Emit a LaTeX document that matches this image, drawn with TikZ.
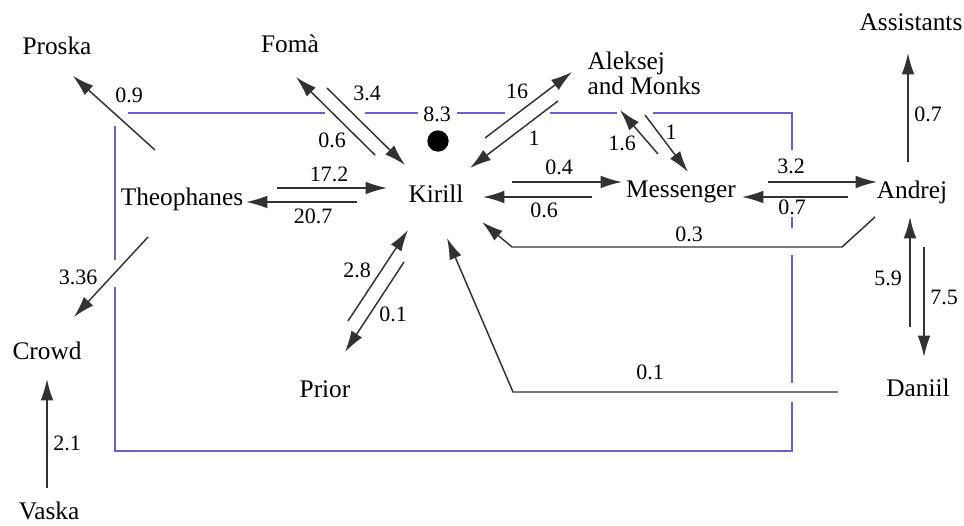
\documentclass[tikz,border=0pt]{standalone}
\usepackage{fontspec}
\setmainfont{Liberation Serif}
\usetikzlibrary{arrows.meta}

\definecolor{frameblue}{RGB}{105,95,205}
\definecolor{flowgray}{RGB}{50,50,50}

\tikzset{every picture/.style={line width=0.75pt}}
\tikzset{
  actor/.style={inner sep=0pt, font=\fontsize{19}{19}\selectfont},
  weight/.style={inner sep=0pt, font=\fontsize{16.5}{17}\selectfont},
  flow/.style={draw=flowgray, line width=1.1pt, -{Latex[length=16pt,width=9.5pt]}},
  frame/.style={draw=frameblue, line width=1.4pt},
}

\begin{document}
\begin{tikzpicture}[x=0.75pt,y=0.75pt,yscale=-1]
	\useasboundingbox (0,0) rectangle (964,525);

	% Draw the frame, broken where the flows cross it
	\draw[frame] (128,113) -- (325,113) ;
	\draw[frame] (365,113) -- (418,113) ;
	\draw[frame] (457,113) -- (505,113) ;
	\draw[frame] (550,113) -- (617,113) ;
	\draw[frame] (653,113) -- (792,113) -- (792,150) ;
	\draw[frame] (792,217) -- (792,228) ;
	\draw[frame] (792,255) -- (792,383) ;
	\draw[frame] (792,402) -- (792,451) -- (115,451) -- (115,287) ;
	\draw[frame] (115,260) -- (115,126) ;
	\node[circle, fill=black, inner sep=0pt, minimum size=16pt] (dot) at (438,141) {};

	% Add actor nodes
	\node[actor] (proska) at (57,46) {Proska};
	\node[actor] (foma) at (290,44) {Fomà};
	\node[actor, align=left, anchor=west] (aleksej) at (587,73) {Aleksej\\and Monks};
	\node[actor] (assist) at (911,22) {Assistants};
	\node[actor] (theo) at (182,199) {Theophanes};
	\node[actor] (kirill) at (436,194) {Kirill};
	\node[actor] (messenger) at (681,192) {Messenger};
	\node[actor] (andrej) at (912,192) {Andrej};
	\node[actor] (crowd) at (47,351) {Crowd};
	\node[actor] (prior) at (325,389) {Prior};
	\node[actor] (daniil) at (918,388) {Daniil};
	\node[actor] (vaska) at (49,511) {Vaska};

	% Flow end points
	\coordinate (tp-a) at (155,150); \coordinate (tp-b) at (73,76);
	\coordinate (fk-a) at (327,88); \coordinate (fk-b) at (405,165);
	\coordinate (kf-a) at (375,155); \coordinate (kf-b) at (296,77);
	\coordinate (tk-a) at (277,188); \coordinate (tk-b) at (387,188);
	\coordinate (kt-a) at (357,202); \coordinate (kt-b) at (246,202);
	\coordinate (tc-a) at (148,237); \coordinate (tc-b) at (74,317);
	\coordinate (vc-a) at (47,488); \coordinate (vc-b) at (47,379);
	\coordinate (pk-a) at (348,321); \coordinate (pk-b) at (408,230);
	\coordinate (kp-a) at (404,262); \coordinate (kp-b) at (345,352);
	\coordinate (dk-a) at (838,392); \coordinate (dk-m) at (513,392); \coordinate (dk-b) at (447,238);
	\coordinate (ak-a) at (875,217); \coordinate (ak-m) at (842,247); \coordinate (ak-n) at (512,247); \coordinate (ak-b) at (482,222);
	\coordinate (km-a) at (512,182); \coordinate (km-b) at (622,182);
	\coordinate (mk-a) at (592,197); \coordinate (mk-b) at (483,197);
	\coordinate (kl-a) at (485,138); \coordinate (kl-b) at (572,72);
	\coordinate (lk-a) at (558,101); \coordinate (lk-b) at (470,168);
	\coordinate (ml-a) at (658,154); \coordinate (ml-b) at (620,110);
	\coordinate (lm-a) at (645,115); \coordinate (lm-b) at (688,172);
	\coordinate (ma-a) at (768,182); \coordinate (ma-b) at (877,182);
	\coordinate (am-a) at (848,197); \coordinate (am-b) at (742,197);
	\coordinate (as-a) at (908,162); \coordinate (as-b) at (908,53);
	\coordinate (da-a) at (910,327); \coordinate (da-b) at (910,217);
	\coordinate (ad-a) at (924,247); \coordinate (ad-b) at (924,357);

	% Draw flows
	\draw[flow] (tp-a) -- (tp-b) ;
	\draw[flow] (fk-a) -- (fk-b) ;
	\draw[flow] (kf-a) -- (kf-b) ;
	\draw[flow] (tk-a) -- (tk-b) ;
	\draw[flow] (kt-a) -- (kt-b) ;
	\draw[flow] (tc-a) -- (tc-b) ;
	\draw[flow] (vc-a) -- (vc-b) ;
	\draw[flow] (pk-a) -- (pk-b) ;
	\draw[flow] (kp-a) -- (kp-b) ;
	\draw[flow] (dk-a) -- (dk-m) -- (dk-b) ;
	\draw[flow] (ak-a) -- (ak-m) -- (ak-n) -- (ak-b) ;
	\draw[flow] (km-a) -- (km-b) ;
	\draw[flow] (mk-a) -- (mk-b) ;
	\draw[flow] (kl-a) -- (kl-b) ;
	\draw[flow] (lk-a) -- (lk-b) ;
	\draw[flow] (ml-a) -- (ml-b) ;
	\draw[flow] (lm-a) -- (lm-b) ;
	\draw[flow] (ma-a) -- (ma-b) ;
	\draw[flow] (am-a) -- (am-b) ;
	\draw[flow] (as-a) -- (as-b) ;
	\draw[flow] (da-a) -- (da-b) ;
	\draw[flow] (ad-a) -- (ad-b) ;

	% Add weight labels
	\node[weight] (w-tp) at (129,95) {0.9};
	\node[weight] (w-fk) at (367,93) {3.4};
	\node[weight] (w-kf) at (332,140) {0.6};
	\node[weight] (w-top) at (437,114) {8.3};
	\node[weight] (w-tk) at (329,174) {17.2};
	\node[weight] (w-kt) at (313,216) {20.7};
	\node[weight] (w-tc) at (78,277) {3.36};
	\node[weight] (w-vc) at (67,443) {2.1};
	\node[weight] (w-pk) at (357,270) {2.8};
	\node[weight] (w-kp) at (393,314) {0.1};
	\node[weight] (w-dk) at (650,372) {0.1};
	\node[weight] (w-ak) at (689,234) {0.3};
	\node[weight] (w-km) at (559,167) {0.4};
	\node[weight] (w-mk) at (544,210) {0.6};
	\node[weight] (w-kl) at (517,91) {16};
	\node[weight] (w-lk) at (534,138) {1};
	\node[weight] (w-ml) at (622,143) {1.6};
	\node[weight] (w-lm) at (671,132) {1};
	\node[weight] (w-ma) at (791,166) {3.2};
	\node[weight] (w-am) at (792,207) {0.7};
	\node[weight] (w-as) at (928,114) {0.7};
	\node[weight] (w-da) at (888,278) {5.9};
	\node[weight] (w-ad) at (944,297) {7.5};
\end{tikzpicture}
\end{document}
